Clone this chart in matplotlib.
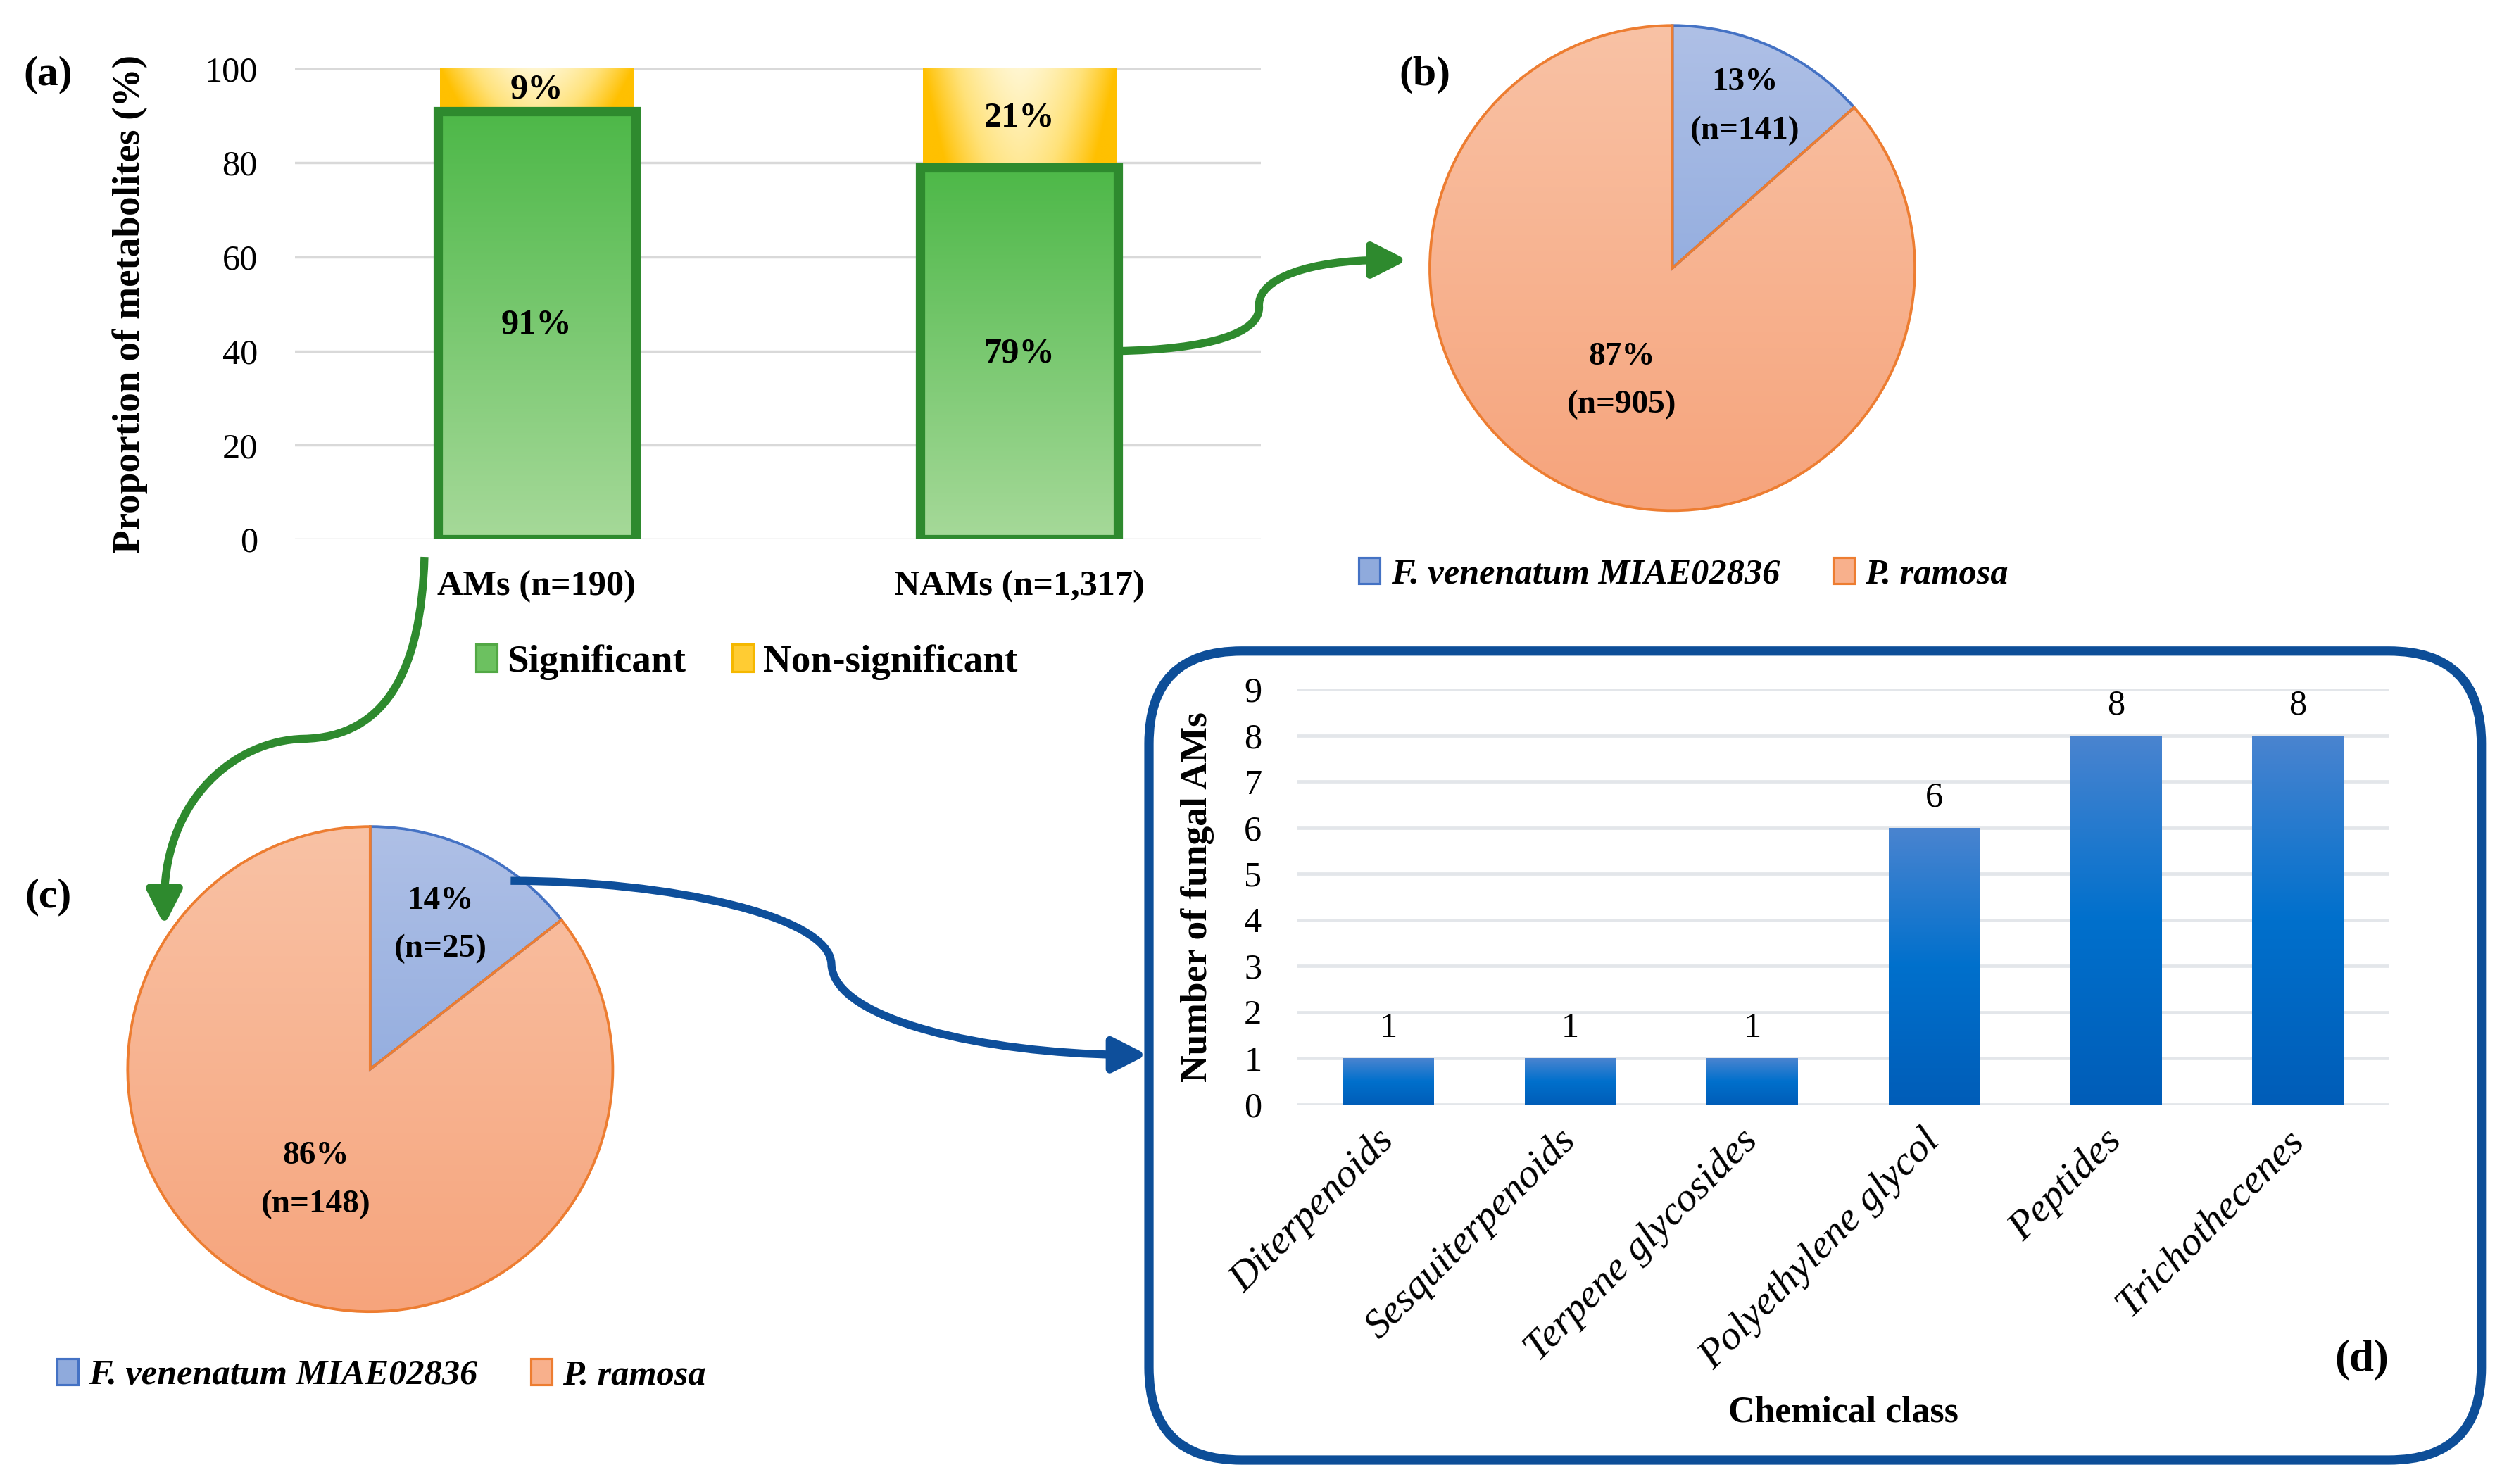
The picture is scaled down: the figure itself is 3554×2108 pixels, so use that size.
import numpy as np
import matplotlib
matplotlib.use("Agg")
import matplotlib.pyplot as plt
from matplotlib.colors import LinearSegmentedColormap
from matplotlib.patches import FancyArrowPatch, FancyBboxPatch, Patch
from matplotlib.path import Path

plt.rcParams["font.family"] = ["Liberation Serif", "DejaVu Serif"]

# (a) share of significant metabolites
groups = ["AMs (n=190)", "NAMs (n=1,317)"]
significant = [91, 79]
non_significant = [9, 21]

# (b) and (c) origin of the metabolites
species = ["F. venenatum MIAE02836", "P. ramosa"]
nams_counts = [141, 905]
ams_counts = [25, 148]

# (d) chemical classes of the fungal AMs
classes = ["Diterpenoids", "Sesquiterpenoids", "Terpene glycosides",
           "Polyethylene glycol", "Peptides", "Trichothecenes"]
class_counts = [1, 1, 1, 6, 8, 8]

W, H = 1568, 930
fig = plt.figure(figsize=(W / 100, H / 100), dpi=100)


def box(x0, y0, x1, y1):
    return [x0 / W, 1 - y1 / H, (x1 - x0) / W, (y1 - y0) / H]


def fill_rect(ax, patch, colors, image=None):
    x, y, w, h = patch.get_x(), patch.get_y(), patch.get_width(), patch.get_height()
    cmap = LinearSegmentedColormap.from_list("g", colors)
    if image is None:
        image = np.linspace(1, 0, 256).reshape(-1, 1)
    im = ax.imshow(image, extent=[x, x + w, y, y + h], origin="lower", cmap=cmap,
                   vmin=0, vmax=1, aspect="auto", zorder=patch.get_zorder() - 0.1,
                   interpolation="bilinear")
    im.set_clip_path(patch)


# ---------------- panel (a) ----------------
ax_a = fig.add_axes(box(185, 43, 790, 338))
x = np.arange(len(groups))
green = ax_a.bar(x, significant, width=0.41, facecolor="none", edgecolor="#2E8A2E",
                 linewidth=4.2, zorder=3)
yellow = ax_a.bar(x, non_significant, bottom=significant, width=0.40, facecolor="none",
                  edgecolor="none", zorder=2)
for p in green:
    fill_rect(ax_a, p, ["#A6D999", "#4DB848"], np.linspace(0, 1, 256).reshape(-1, 1))
gx, gy = np.meshgrid(np.linspace(0, 1, 200), np.linspace(0, 1, 100))
yel_img = np.clip(np.abs(2 * gx - 1) ** 1.6 + 0.35 * (1 - gy), 0, 1)
for p in yellow:
    fill_rect(ax_a, p, ["#FFF6D0", "#FFE27A", "#FFC000"], yel_img)
for i in x:
    ax_a.text(i, significant[i] / 2, f"{significant[i]}%", ha="center", va="center",
              fontsize=16, fontweight="bold", zorder=5)
    ax_a.text(i, significant[i] + non_significant[i] / 2, f"{non_significant[i]}%",
              ha="center", va="center", fontsize=16, fontweight="bold", zorder=5)
ax_a.set_xlim(-0.5, 1.5)
ax_a.set_ylim(0, 100)
ax_a.set_yticks(range(0, 101, 20))
ax_a.set_xticks(x, groups, fontsize=16, fontweight="bold")
ax_a.tick_params(axis="both", length=0)
ax_a.tick_params(axis="y", pad=17, labelsize=16)
ax_a.tick_params(axis="x", pad=14)
ax_a.grid(axis="y", color="#D9D9D9", linewidth=1.1)
ax_a.set_axisbelow(True)
for s in ax_a.spines.values():
    s.set_visible(False)
ax_a.set_ylabel("Proportion of metabolites (%)", fontsize=17.5, fontweight="bold")
ax_a.yaxis.set_label_coords(-0.153, 0.5)
ax_a.legend(handles=[Patch(facecolor="#6CC160", edgecolor="#52A845", label="Significant"),
                     Patch(facecolor="#FFCC33", edgecolor="#F5B800", label="Non-significant")],
            loc="center", bbox_to_anchor=(468 / W, 1 - 415 / H), bbox_transform=fig.transFigure,
            ncol=2, frameon=False, handlelength=0.55, handleheight=0.7, handletextpad=0.25,
            columnspacing=1.2, prop={"size": 17.5, "weight": "bold"})


# ---------------- pies (b) and (c) ----------------
def draw_pie(rect, counts, label_r, legend_xy):
    ax = fig.add_axes(rect)
    wedges, _ = ax.pie(counts, startangle=90, counterclock=False, radius=1,
                       colors=["none", "none"])
    edge_cols = ["#4472C4", "#ED7D31"]
    grads = [["#7C9DD9", "#AFC0E6"], ["#F6A47C", "#F9C2A5"]]
    total = sum(counts)
    for w, ec, gc, n, r in zip(wedges, edge_cols, grads, counts, label_r):
        w.set_edgecolor(ec)
        w.set_linewidth(1.2)
        w.set_zorder(3)
        w.set_clip_on(False)
        cmap = LinearSegmentedColormap.from_list("p", gc)
        im = ax.imshow(np.linspace(0, 1, 256).reshape(-1, 1), extent=[-1, 1, -1, 1],
                       origin="lower", cmap=cmap, aspect="auto", zorder=2)
        im.set_clip_path(w)
        mid = np.deg2rad((w.theta1 + w.theta2) / 2)
        ax.text(r * np.cos(mid), r * np.sin(mid), f"{round(100 * n / total)}%\n(n={n})",
                ha="center", va="center", fontsize=15, fontweight="bold",
                linespacing=1.8, zorder=5)
    ax.set_xlim(-1, 1)
    ax.set_ylim(-1, 1)
    ax.set_aspect("equal")
    ax.axis("off")
    fig.legend(handles=[Patch(facecolor="#8FAADC", edgecolor="#4472C4", label=species[0]),
                        Patch(facecolor="#F8B08C", edgecolor="#ED7D31", label=species[1])],
               loc="center", bbox_to_anchor=legend_xy, ncol=2, frameon=False,
               handlelength=0.6, handleheight=0.75, handletextpad=0.3, columnspacing=1.5,
               prop={"size": 16, "style": "italic", "weight": "bold"})
    return ax


draw_pie(box(896, 16, 1200, 320), nams_counts, [0.73, 0.51], (1055 / W, 1 - 360 / H))
draw_pie(box(80, 518, 384, 822), ams_counts, [0.66, 0.51], (239 / W, 1 - 862 / H))

# ---------------- panel (d) ----------------
ax_d = fig.add_axes(box(813, 432, 1497, 692))
xd = np.arange(len(classes))
bars = ax_d.bar(xd, class_counts, width=0.5, facecolor="none", edgecolor="none", zorder=2)
for p in bars:
    fill_rect(ax_d, p, ["#005DB8", "#0070CC", "#4A84D0"], np.linspace(0, 1, 256).reshape(-1, 1))
for i, v in zip(xd, class_counts):
    ax_d.annotate(str(v), (i, v), xytext=(0, 6), textcoords="offset points",
                  ha="center", va="bottom", fontsize=16)
ax_d.set_xlim(-0.5, len(classes) - 0.5)
ax_d.set_ylim(0, 9)
ax_d.set_yticks(range(0, 10))
ax_d.set_xticks(xd, classes, rotation=45, ha="right", va="center",
                rotation_mode="anchor", fontsize=18.5, style="italic")
ax_d.tick_params(axis="both", length=0)
ax_d.tick_params(axis="y", pad=16, labelsize=16)
ax_d.tick_params(axis="x", pad=14)
ax_d.grid(axis="y", color="#E3E6EA", linewidth=1.5)
ax_d.set_axisbelow(True)
for s in ax_d.spines.values():
    s.set_visible(False)
ax_d.set_ylabel("Number of fungal AMs", fontsize=17, fontweight="bold")
ax_d.yaxis.set_label_coords(-0.076, 0.5)

# ---------------- overlay: frame, arrows, panel letters ----------------
ov = fig.add_axes([0, 0, 1, 1], zorder=10)
ov.set_xlim(0, W)
ov.set_ylim(H, 0)
ov.axis("off")
ov.patch.set_alpha(0)

ov.add_patch(FancyBboxPatch((720, 408), 835, 507, boxstyle="round,pad=0,rounding_size=58",
                            fill=False, edgecolor="#0D4E98", linewidth=4.2))

C4, M, L = Path.CURVE4, Path.MOVETO, Path.LINETO
arrows = [
    ([(700, 220), (757, 219), (790, 209), (789, 192), (788, 174), (822, 163), (866, 163), (882, 163)],
     [M, C4, C4, C4, C4, C4, C4, L], "#2E8A2E"),
    ([(266, 349), (264, 420), (242, 462), (190, 463), (148, 464), (104, 500), (103, 562), (103, 580)],
     [M, C4, C4, C4, C4, C4, C4, L], "#2E8A2E"),
    ([(320, 552), (420, 552), (520, 574), (521, 604), (522, 640), (620, 660), (702, 661), (719, 661)],
     [M, C4, C4, C4, C4, C4, C4, L], "#0E4F9B"),
]
for verts, codes, col in arrows:
    ov.add_patch(FancyArrowPatch(path=Path(verts, codes),
                                 arrowstyle="-|>,head_length=0.65,head_width=0.33",
                                 mutation_scale=20, color=col, linewidth=3.6,
                                 capstyle="butt"))

for txt, px, py, fs in [("(a)", 30, 47, 19), ("(b)", 893, 47, 19),
                        ("(c)", 30, 562, 19), ("(d)", 1480, 852, 20)]:
    ov.text(px, py, txt, ha="center", va="center", fontsize=fs, fontweight="bold")
ov.text(1155, 885, "Chemical class", ha="center", va="center", fontsize=16.5, fontweight="bold")

fig.savefig("out.png", dpi=226.67)
